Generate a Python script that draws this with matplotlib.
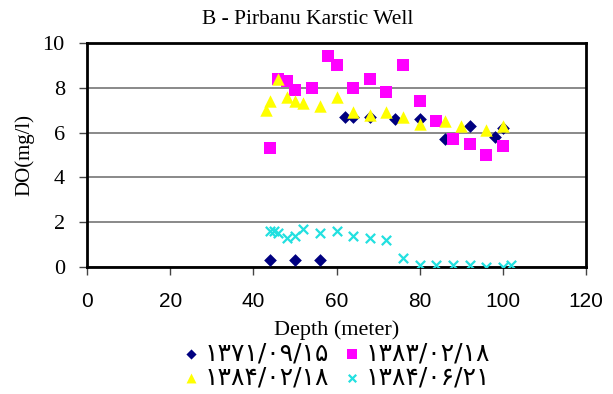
import matplotlib
matplotlib.use("Agg")
import matplotlib.pyplot as plt

# Data
d1_x = [44, 50, 56, 62, 64, 68, 74, 80, 86, 92, 98, 100]
d1_y = [0.3, 0.3, 0.3, 6.7, 6.7, 6.7, 6.6, 6.6, 5.7, 6.3, 5.8, 6.2]

d2_x = [44, 46, 48, 50, 54, 58, 60, 64, 68, 72, 76, 80, 84, 88, 92, 96, 100]
d2_y = [5.3, 8.4, 8.3, 7.9, 8.0, 9.4, 9.0, 8.0, 8.4, 7.8, 9.0, 7.4, 6.5, 5.7, 5.5, 5.0, 5.4]

d3_x = [43, 44, 46, 48, 50, 52, 56, 60, 64, 68, 72, 76, 80, 86, 90, 96, 100]
d3_y = [7.0, 7.4, 8.4, 7.6, 7.4, 7.3, 7.2, 7.6, 6.9, 6.8, 6.9, 6.7, 6.4, 6.5, 6.3, 6.1, 6.3]

d4_x = [44, 45, 46, 48, 50, 52, 56, 60, 64, 68, 72, 76, 80, 84, 88, 92, 96, 100, 102]
d4_y = [1.6, 1.6, 1.5, 1.3, 1.4, 1.7, 1.5, 1.6, 1.4, 1.3, 1.2, 0.4, 0.1, 0.1, 0.1, 0.1, 0.0, 0.0, 0.1]

labels = ["۱۳۷۱/۰۹/۱۵", "۱۳۸۳/۰۲/۱۸", "۱۳۸۴/۰۲/۱۸", "۱۳۸۴/۰۶/۲۱"]
title = "B - Pirbanu Karstic Well"
xlabel = "Depth (meter)"
ylabel = "DO(mg/l)"
xticks = [0, 20, 40, 60, 80, 100, 120]
yticks = [0, 2, 4, 6, 8, 10]

fig = plt.figure(figsize=(6.13, 3.94), dpi=100)
ax = fig.add_axes([87/613, 1-267/394, (586-87)/613, (267-43)/394])

h1 = ax.scatter(d1_x, d1_y, marker='D', s=42, color='#000080', zorder=3, linewidths=0)
h2 = ax.scatter(d2_x, d2_y, marker='s', s=80, color='#FF00FF', zorder=3, linewidths=0)
h3 = ax.scatter(d3_x, d3_y, marker='^', s=80, color='#FFFF00', zorder=3, linewidths=0)
h4 = ax.scatter(d4_x, d4_y, marker='x', s=45, color='#22E0E0', zorder=3, linewidths=1.6)

ax.set_xlim(0, 120)
ax.set_ylim(0, 10)
ax.set_xticks(xticks)
ax.set_yticks(yticks)
ax.yaxis.grid(True, color='#808080', linewidth=1.3)
ax.set_axisbelow(True)
for s in ax.spines.values():
    s.set_linewidth(2)
    s.set_color('black')
ax.tick_params(axis='both', direction='out', length=6, width=1, color='#444444')
ax.tick_params(axis='x', pad=12)
ax.tick_params(axis='y', pad=10)

for t in ax.get_xticklabels():
    t.set_fontfamily('Liberation Sans')
    t.set_fontsize(15)
for t in ax.get_yticklabels():
    t.set_fontfamily('Liberation Serif')
    t.set_fontsize(16)

fig.text(308/613, 1-19/394, title, fontfamily='Liberation Serif', fontsize=15.5,
         ha='center', va='center')
ax.set_xlabel(xlabel, fontfamily='Liberation Serif', fontsize=16, labelpad=7)
ax.set_ylabel(ylabel, fontfamily='Liberation Serif', fontsize=15, labelpad=6)

leg = fig.legend([h1, h3, h2, h4], [labels[0], labels[2], labels[1], labels[3]],
                 loc='center', bbox_to_anchor=(0.545, 0.072), ncol=2, frameon=False,
                 prop={'family': 'DejaVu Sans', 'size': 18}, handletextpad=0.05,
                 columnspacing=0.4, labelspacing=0.0, handlelength=1.0, markerscale=0.8,
                 borderpad=0.1)

fig.savefig("out.png", dpi=100)
